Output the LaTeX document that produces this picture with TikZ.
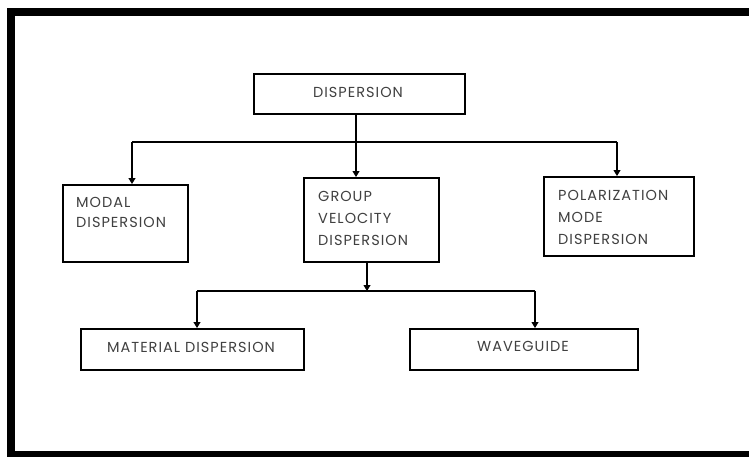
\documentclass[tikz,border=0pt]{standalone}
\usepackage{fontspec}
\setmainfont[LetterSpace=7]{Poppins}
\usetikzlibrary{arrows.meta}
\begin{document}
\begin{tikzpicture}[x=1pt,y=-1pt,
  box/.style={draw=black,line width=1.5pt,rectangle,inner sep=0pt,anchor=north west},
  txt/.style={inner sep=0pt,anchor=west,text=black!75,font=\fontsize{14.5}{16}\selectfont},
  conn/.style={line width=1.1pt,-{Triangle[width=7pt,length=6pt]}},
  plain/.style={line width=1.1pt}]
\useasboundingbox (0,0) rectangle (749,456);
\fill[white] (0,0) rectangle (749,456);
\draw[line width=8pt] (760,12) -- (11,12) -- (11,455) -- (760,455);
% boxes
\node[box,minimum width=211pt,minimum height=40pt] (disp) at (253,73) {};
\node[box,minimum width=125pt,minimum height=77pt] (modal) at (62,184) {};
\node[box,minimum width=135pt,minimum height=84pt] (group) at (303,177) {};
\node[box,minimum width=150pt,minimum height=79pt] (pol) at (543,176) {};
\node[box,minimum width=223pt,minimum height=41pt] (mat) at (80,328) {};
\node[box,minimum width=228pt,minimum height=41pt] (wave) at (409,328) {};
% texts
\node[txt,anchor=center] (tdisp) at (358,92) {DISPERSION};
\node[txt] (tmodal1) at (76,202) {MODAL};
\node[txt] (tmodal2) at (76,222) {DISPERSION};
\node[txt] (tgroup1) at (318,196) {GROUP};
\node[txt] (tgroup2) at (318,218) {VELOCITY};
\node[txt] (tgroup3) at (318,240) {DISPERSION};
\node[txt] (tpol1) at (558,195) {POLARIZATION};
\node[txt] (tpol2) at (558,217) {MODE};
\node[txt] (tpol3) at (558,239) {DISPERSION};
\node[txt,anchor=center] (tmat) at (191,347) {MATERIAL DISPERSION};
\node[txt,anchor=center] (twave) at (523,346) {WAVEGUIDE};
% connectors
\coordinate (j1) at (356,142);
\coordinate (j1l) at (132,142);
\coordinate (j1r) at (617,142);
\coordinate (g1) at (367,261);
\coordinate (j2) at (367,291);
\coordinate (j2l) at (197,291);
\coordinate (j2r) at (535,291);
\draw[conn] (disp.south -| j1) -- (group.north -| j1);
\draw[plain] (j1l) -- (j1r);
\draw[conn] (j1l) -- (modal.north -| j1l);
\draw[conn] (j1r) -- (pol.north -| j1r);
\draw[conn] (group.south -| g1) -- (j2);
\draw[plain] (j2l) -- (j2r);
\draw[conn] (j2l) -- (mat.north -| j2l);
\draw[conn] (j2r) -- (wave.north -| j2r);
\end{tikzpicture}
\end{document}
